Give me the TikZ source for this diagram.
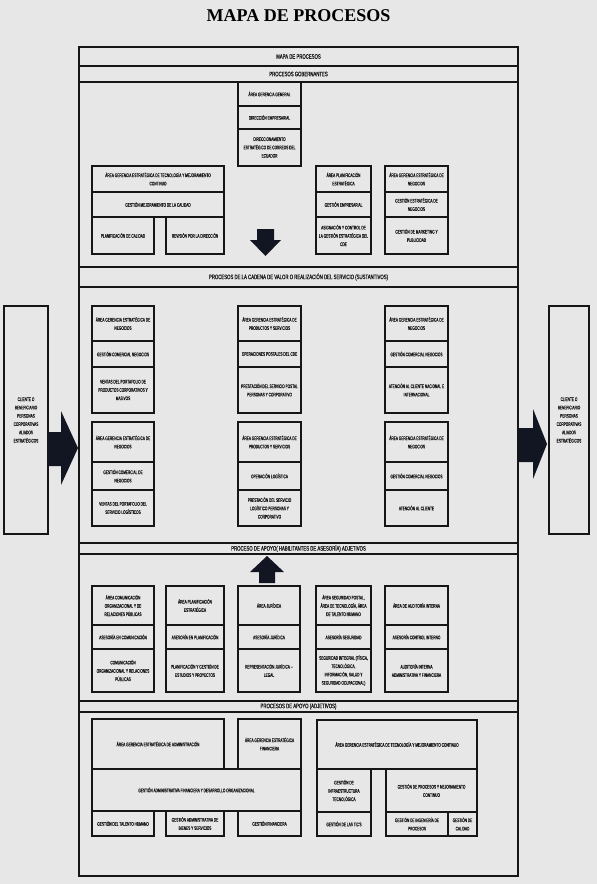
\documentclass[tikz,border=0pt]{standalone}
\usepackage{fontspec}
\setmainfont{Liberation Serif}
\newfontfamily\cellfont[FakeStretch=0.61,FakeBold=0.6]{Liberation Sans}
\newfontfamily\hdrfont[FakeStretch=0.66,FakeBold=0.6]{Liberation Sans}
\definecolor{bgc}{RGB}{231,231,231}
\definecolor{linec}{RGB}{22,22,22}
\definecolor{arrowc}{RGB}{18,22,34}
\tikzset{
 cell/.style={draw=linec, line width=1.2pt, fill=bgc, inner sep=0pt, align=center,
   font=\cellfont\fontsize{5.2}{8.3}\selectfont, text=black!90},
 hdrcell/.style={cell, font=\hdrfont\fontsize{6.5}{7}\selectfont},
 blockarrow/.style={fill=arrowc}
}
\newcommand{\pcell}[7][cell]{%
 \pgfmathsetmacro{\pcw}{#5-#3}\pgfmathsetmacro{\pch}{#6-#4}%
 \pgfmathsetmacro{\pcx}{(#3+#5)/2}\pgfmathsetmacro{\pcy}{(#4+#6)/2}%
 \node[#1, minimum width=\pcw pt, minimum height=\pch pt] (#2) at (\pcx,\pcy) {#7};}
\begin{document}
\begin{tikzpicture}[x=1pt,y=-1pt]
\useasboundingbox (0,0) rectangle (597,884);
\fill[bgc] (0,0) rectangle (597,884);
\node[font=\fontsize{18}{20}\selectfont\bfseries, text=black] (title) at (298.5,15.5) {MAPA DE PROCESOS};
% frame
\pcell[hdrcell]{h1}{79}{47}{518}{66}{MAPA DE PROCESOS}
\pcell[hdrcell]{h2}{79}{66}{518}{82}{PROCESOS GOBERNANTES}
\pcell{s1}{79}{82}{518}{267}{}
\pcell[hdrcell]{h3}{79}{267}{518}{287}{PROCESOS DE LA CADENA DE VALOR O REALIZACIÓN DEL SERVICIO (SUSTANTIVOS)}
\pcell{s2}{79}{287}{518}{543}{}
\pcell[hdrcell]{h4}{79}{543}{518}{554}{PROCESO DE APOYO( HABILITANTES DE ASESORÍA) ADJETIVOS}
\pcell{s3}{79}{554}{518}{701}{}
\pcell[hdrcell]{h5}{79}{701}{518}{712}{PROCESOS DE APOYO (ADJETIVOS)}
\pcell{s4}{79}{712}{518}{876}{}
% governance
\pcell{g1}{238}{82}{301}{106}{ÁREA GERENCIA GENERAL}
\pcell{g2}{238}{106}{301}{129}{DIRECCIÓN EMPRESARIAL}
\pcell{g3}{238}{129}{301}{166}{DIRECCIONAMIENTO\\ESTRATÉGICO DE CORREOS DEL\\ECUADOR}
\pcell{g4}{92}{166}{224}{192}{ÁREA GERENCIA ESTRATÉGICA DE TECNOLOGÍA Y MEJORAMIENTO\\CONTINUO}
\pcell{g5}{92}{192}{224}{217}{GESTIÓN MEJORAMIENTO DE LA CALIDAD}
\pcell{g6}{92}{217}{154}{254}{PLANIFICACIÓN DE CALIDAD}
\pcell{g7}{166}{217}{224}{254}{REVISIÓN POR LA DIRECCIÓN}
\pcell{g8}{316}{166}{371}{192}{ÁREA PLANIFICACIÓN\\ESTRATÉGICA}
\pcell{g9}{316}{192}{371}{217}{GESTIÓN EMPRESARIAL}
\pcell{g10}{316}{217}{371}{254}{ASIGNACIÓN Y CONTROL DE\\LA GESTIÓN ESTRATÉGICA DEL\\CDE}
\pcell{g11}{385}{166}{448}{192}{ÁREA GERENCIA ESTRATÉGICA DE\\NEGOCIOS}
\pcell{g12}{385}{192}{448}{217}{GESTIÓN ESTRATÉGICA DE\\NEGOCIOS}
\pcell{g13}{385}{217}{448}{254}{GESTIÓN DE MARKETING Y\\PUBLICIDAD}
\fill[blockarrow] (257,229) -- (274,229) -- (274,240) -- (281,240) -- (265.5,256) -- (250,240) -- (257,240) -- cycle;
% value chain
\pcell{v1}{92}{306}{154}{341}{ÁREA GERENCIA ESTRATÉGICA DE\\NEGOCIOS}
\pcell{v2}{92}{341}{154}{367}{GESTIÓN COMERCIAL NEGOCIOS}
\pcell{v3}{92}{367}{154}{413}{VENTAS DEL PORTAFOLIO DE\\PRODUCTOS CORPORATIVOS Y\\MASIVOS}
\pcell{v4}{92}{422}{154}{462}{ÁREA GERENCIA ESTRATÉGICA DE\\NEGOCIOS}
\pcell{v5}{92}{462}{154}{490}{GESTIÓN COMERCIAL DE\\NEGOCIOS}
\pcell{v6}{92}{490}{154}{526}{VENTAS DEL PORTAFOLIO DEL\\SERVICIO LOGÍSTICOS}
\pcell{v7}{238}{306}{301}{341}{ÁREA GERENCIA ESTRATÉGICA DE\\PRODUCTOS Y SERVICIOS}
\pcell{v8}{238}{341}{301}{367}{OPERACIONES POSTALES DEL CDE}
\pcell{v9}{238}{367}{301}{413}{PRESTACIÓN DEL SERVICIO POSTAL\\PERSONAS Y CORPORATIVO}
\pcell{v10}{238}{422}{301}{462}{ÁREA GERENCIA ESTRATÉGICA DE\\PRODUCTOS Y SERVICIOS}
\pcell{v11}{238}{462}{301}{490}{OPERACIÓN LOGÍSTICA}
\pcell{v12}{238}{490}{301}{526}{PRESTACIÓN DEL SERVICIO\\LOGÍSTICO PERSONAS Y\\CORPORATIVO}
\pcell{v13}{385}{306}{448}{341}{ÁREA GERENCIA ESTRATÉGICA DE\\NEGOCIOS}
\pcell{v14}{385}{341}{448}{367}{GESTIÓN COMERCIAL NEGOCIOS}
\pcell{v15}{385}{367}{448}{413}{ATENCIÓN AL CLIENTE NACIONAL E\\INTERNACIONAL}
\pcell{v16}{385}{422}{448}{462}{ÁREA GERENCIA ESTRATÉGICA DE\\NEGOCIOS}
\pcell{v17}{385}{462}{448}{490}{GESTIÓN COMERCIAL NEGOCIOS}
\pcell{v18}{385}{490}{448}{526}{ATENCIÓN AL CLIENTE}
% clients
\pcell{cl}{4}{306}{48}{534}{CLIENTE O\\BENEFICIARIO\\PERSONAS\\CORPORATIVAS\\ALIADOS\\ESTRATÉGICOS}
\pcell{cr}{549}{306}{589}{534}{CLIENTE O\\BENEFICIARIO\\PERSONAS\\CORPORATIVAS\\ALIADOS\\ESTRATÉGICOS}
\fill[blockarrow] (48,432) -- (61,432) -- (61,411) -- (78,448) -- (61,485) -- (61,466) -- (48,466) -- cycle;
\fill[blockarrow] (519,428) -- (533,428) -- (533,409) -- (547,444) -- (533,479) -- (533,462) -- (519,462) -- cycle;
% support (habilitantes)
\fill[blockarrow] (259,583) -- (275,583) -- (275,572) -- (284,572) -- (267,556) -- (250,572) -- (259,572) -- cycle;
\pcell{a1}{92}{586}{154}{625}{ÁREA COMUNICACIÓN\\ORGANIZACIONAL Y DE\\RELACIONES PÚBLICAS}
\pcell{a2}{92}{625}{154}{649}{ASESORÍA EN COMUNICACIÓN}
\pcell{a3}{92}{649}{154}{692}{COMUNICACIÓN\\ORGANIZACIONAL Y RELACIONES\\PÚBLICAS}
\pcell{a4}{166}{586}{224}{625}{ÁREA PLANIFICACIÓN\\ESTRATÉGICA}
\pcell{a5}{166}{625}{224}{649}{ASESORÍA EN PLANIFICACIÓN}
\pcell{a6}{166}{649}{224}{692}{PLANIFICACIÓN Y GESTIÓN DE\\ESTUDIOS Y PROYECTOS}
\pcell{a7}{238}{586}{300}{625}{ÁREA JURÍDICA}
\pcell{a8}{238}{625}{300}{649}{ASESORÍA JURÍDICA}
\pcell{a9}{238}{649}{300}{692}{REPRESENTACIÓN JURÍDICA --\\LEGAL}
\pcell{a10}{316}{586}{371}{625}{ÁREA SEGURIDAD POSTAL,\\ÁREA DE TECNOLOGÍA, ÁREA\\DE TALENTO HUMANO}
\pcell{a11}{316}{625}{371}{649}{ASESORÍA SEGURIDAD}
\pcell{a12}{316}{649}{371}{692}{SEGURIDAD INTEGRAL (FÍSICA,\\TECNOLÓGICA,\\INFORMACIÓN, SALUD Y\\SEGURIDAD OCUPACIONAL)}
\pcell{a13}{385}{586}{448}{625}{ÁREA DE AUDITORÍA INTERNA}
\pcell{a14}{385}{625}{448}{649}{ASESORÍA CONTROL INTERNO}
\pcell{a15}{385}{649}{448}{692}{AUDITORÍA INTERNA\\ADMINISTRATIVA Y FINANCIERA}
% support (adjetivos)
\pcell{b1}{92}{719}{224}{769}{ÁREA GERENCIA ESTRATÉGICA DE ADMINISTRACIÓN}
\pcell{b2}{238}{719}{301}{769}{ÁREA GERENCIA ESTRATÉGICA\\FINANCIERA}
\pcell{b3}{92}{769}{301}{811}{GESTIÓN ADMINISTRATIVA FINANCIERA Y DESARROLLO ORGANIZACIONAL}
\pcell{b4}{92}{811}{154}{836}{GESTIÓN DEL TALENTO HUMANO}
\pcell{b5}{166}{811}{224}{836}{GESTIÓN ADMINISTRATIVA DE\\BIENES Y SERVICIOS}
\pcell{b6}{238}{811}{301}{836}{GESTIÓN FINANCIERA}
\pcell{b7}{317}{720}{477}{769}{ÁREA GERENCIA ESTRATÉGICA DE TECNOLOGÍA Y MEJORAMIENTO CONTINUO}
\pcell{b8}{317}{769}{371}{812}{GESTIÓN DE\\INFRAESTRUCTURA\\TECNOLÓGICA}
\pcell{b9}{317}{812}{371}{836}{GESTIÓN DE LAS TIC'S}
\pcell{b10}{386}{769}{477}{812}{GESTIÓN DE PROCESOS Y MEJORAMIENTO\\CONTINUO}
\pcell{b11}{386}{812}{448}{836}{GESTIÓN DE INGENIERÍA DE\\PROCESOS}
\pcell{b12}{448}{812}{477}{836}{GESTIÓN DE\\CALIDAD}
\end{tikzpicture}
\end{document}
